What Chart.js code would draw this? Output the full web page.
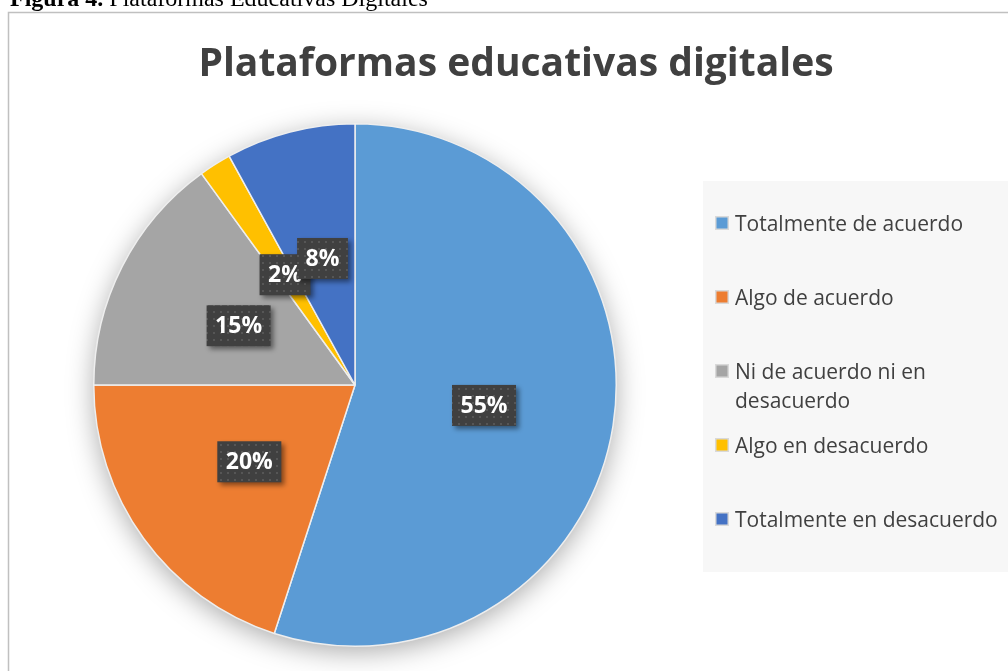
<!DOCTYPE html>
<html>
<head>
<meta charset="utf-8">
<script src="https://cdn.jsdelivr.net/npm/chart.js@4.4.1/dist/chart.umd.min.js"></script>
<style>
  html, body { margin: 0; padding: 0; background: #ffffff; }
  #wrap { position: relative; width: 1008px; height: 671px; overflow: hidden; }
</style>
</head>
<body>
<div id="wrap"><canvas id="chart_plataformas" width="1008" height="671"></canvas></div>
<script>
// Data
const categories = [
  'Totalmente de acuerdo',
  'Algo de acuerdo',
  'Ni de acuerdo ni en desacuerdo',
  'Algo en desacuerdo',
  'Totalmente en desacuerdo'
];
const percentages = [55, 20, 15, 2, 8];
const percentLabels = ['55%', '20%', '15%', '2%', '8%'];
const sliceColors = ['#5B9BD5', '#ED7D31', '#A5A5A5', '#FFC000', '#4472C4'];
const chartTitle = 'Plataformas educativas digitales';
const captionBold = 'Figura 4.';
const captionText = ' Plataformas Educativas Digitales';

const textColor = '#404040';

// dotted fill for the data label boxes
function makeDotPattern(ctx) {
  const p = document.createElement('canvas');
  p.width = 7;
  p.height = 7;
  const pc = p.getContext('2d');
  pc.fillStyle = '#404040';
  pc.fillRect(0, 0, 7, 7);
  pc.fillStyle = '#565656';
  pc.fillRect(3, 3, 2, 2);
  return ctx.createPattern(p, 'repeat');
}

// Frame, caption and title
const framePlugin = {
  id: 'frame',
  beforeDraw(chart) {
    const ctx = chart.ctx;
    ctx.save();
    ctx.fillStyle = '#ffffff';
    ctx.fillRect(0, 0, chart.width, chart.height);
    // border
    ctx.strokeStyle = '#c0c0c0';
    ctx.lineWidth = 1.5;
    ctx.strokeRect(8.5, 12.5, chart.width + 10, chart.height + 10);
    // caption (cut at the top)
    ctx.fillStyle = '#000000';
    ctx.textBaseline = 'alphabetic';
    ctx.font = 'bold 24px "Liberation Serif", "Times New Roman", serif';
    ctx.fillText(captionBold, 10, 6);
    const w = ctx.measureText(captionBold).width;
    ctx.font = '24px "Liberation Serif", "Times New Roman", serif';
    ctx.fillText(captionText, 10 + w, 6);
    // title
    ctx.fillStyle = textColor;
    ctx.font = 'bold 39px "Open Sans", sans-serif';
    ctx.textAlign = 'center';
    ctx.fillText(chartTitle, 516, 76);
    ctx.restore();
  }
};

// soft shadow behind the pie
const pieShadowPlugin = {
  id: 'pieShadow',
  beforeDatasetsDraw(chart) {
    const arc = chart.getDatasetMeta(0).data[0];
    if (!arc) return;
    const ctx = chart.ctx;
    ctx.save();
    ctx.shadowColor = 'rgba(0,0,0,0.35)';
    ctx.shadowBlur = 28;
    ctx.shadowOffsetY = 6;
    ctx.fillStyle = '#ffffff';
    ctx.beginPath();
    ctx.arc(arc.x, arc.y, arc.outerRadius - 1, 0, Math.PI * 2);
    ctx.fill();
    ctx.restore();
  }
};

// dark data label boxes
const dataLabelPlugin = {
  id: 'boxLabels',
  afterDatasetsDraw(chart) {
    const ctx = chart.ctx;
    const meta = chart.getDatasetMeta(0);
    const pattern = makeDotPattern(ctx);
    ctx.save();
    ctx.font = 'bold 23px "Open Sans", sans-serif';
    ctx.textAlign = 'center';
    ctx.textBaseline = 'middle';
    meta.data.forEach((arc, i) => {
      const pos = arc.tooltipPosition();
      const txt = percentLabels[i];
      const bw = ctx.measureText(txt).width + 17;
      const bh = 41;
      ctx.save();
      ctx.shadowColor = 'rgba(0,0,0,0.45)';
      ctx.shadowBlur = 5;
      ctx.shadowOffsetX = 3;
      ctx.shadowOffsetY = 3;
      ctx.fillStyle = pattern;
      ctx.fillRect(pos.x - bw / 2, pos.y - bh / 2, bw, bh);
      ctx.restore();
      ctx.fillStyle = '#ffffff';
      ctx.fillText(txt, pos.x, pos.y + 1);
    });
    ctx.restore();
  }
};

// legend panel on the right
const sideLegendPlugin = {
  id: 'sideLegend',
  afterDraw(chart) {
    const ctx = chart.ctx;
    ctx.save();
    ctx.fillStyle = '#f7f7f7';
    ctx.fillRect(703, 181, 310, 391);
    ctx.font = '21px "Open Sans", sans-serif';
    ctx.textBaseline = 'alphabetic';
    ctx.textAlign = 'left';
    const maxW = 268;
    chart.data.labels.forEach((label, i) => {
      const base = 231 + i * 74;
      // marker
      ctx.fillStyle = '#d9d9d9';
      ctx.fillRect(715, base - 15, 14, 14);
      ctx.fillStyle = chart.data.datasets[0].backgroundColor[i];
      ctx.fillRect(716.5, base - 13.5, 11, 11);
      // wrap text
      const words = label.split(' ');
      const lines = [];
      let line = '';
      words.forEach(wd => {
        const test = line ? line + ' ' + wd : wd;
        if (ctx.measureText(test).width > maxW && line) {
          lines.push(line);
          line = wd;
        } else {
          line = test;
        }
      });
      lines.push(line);
      ctx.fillStyle = textColor;
      lines.forEach((ln, j) => ctx.fillText(ln, 735, base + j * 29));
    });
    ctx.restore();
  }
};

document.addEventListener('DOMContentLoaded', function() {
  const ctx = document.getElementById('chart_plataformas').getContext('2d');
  new Chart(ctx, {
    type: 'pie',
    data: {
      labels: categories,
      datasets: [{
        data: percentages,
        backgroundColor: sliceColors,
        borderColor: '#eeeeee',
        borderWidth: 1.5
      }]
    },
    options: {
      responsive: false,
      animation: false,
      layout: { padding: { left: 92, right: 390, top: 123, bottom: 24 } },
      plugins: {
        legend: { display: false },
        title: { display: false },
        tooltip: { enabled: false }
      }
    },
    plugins: [framePlugin, pieShadowPlugin, dataLabelPlugin, sideLegendPlugin]
  });
});
</script>
</body>
</html>
